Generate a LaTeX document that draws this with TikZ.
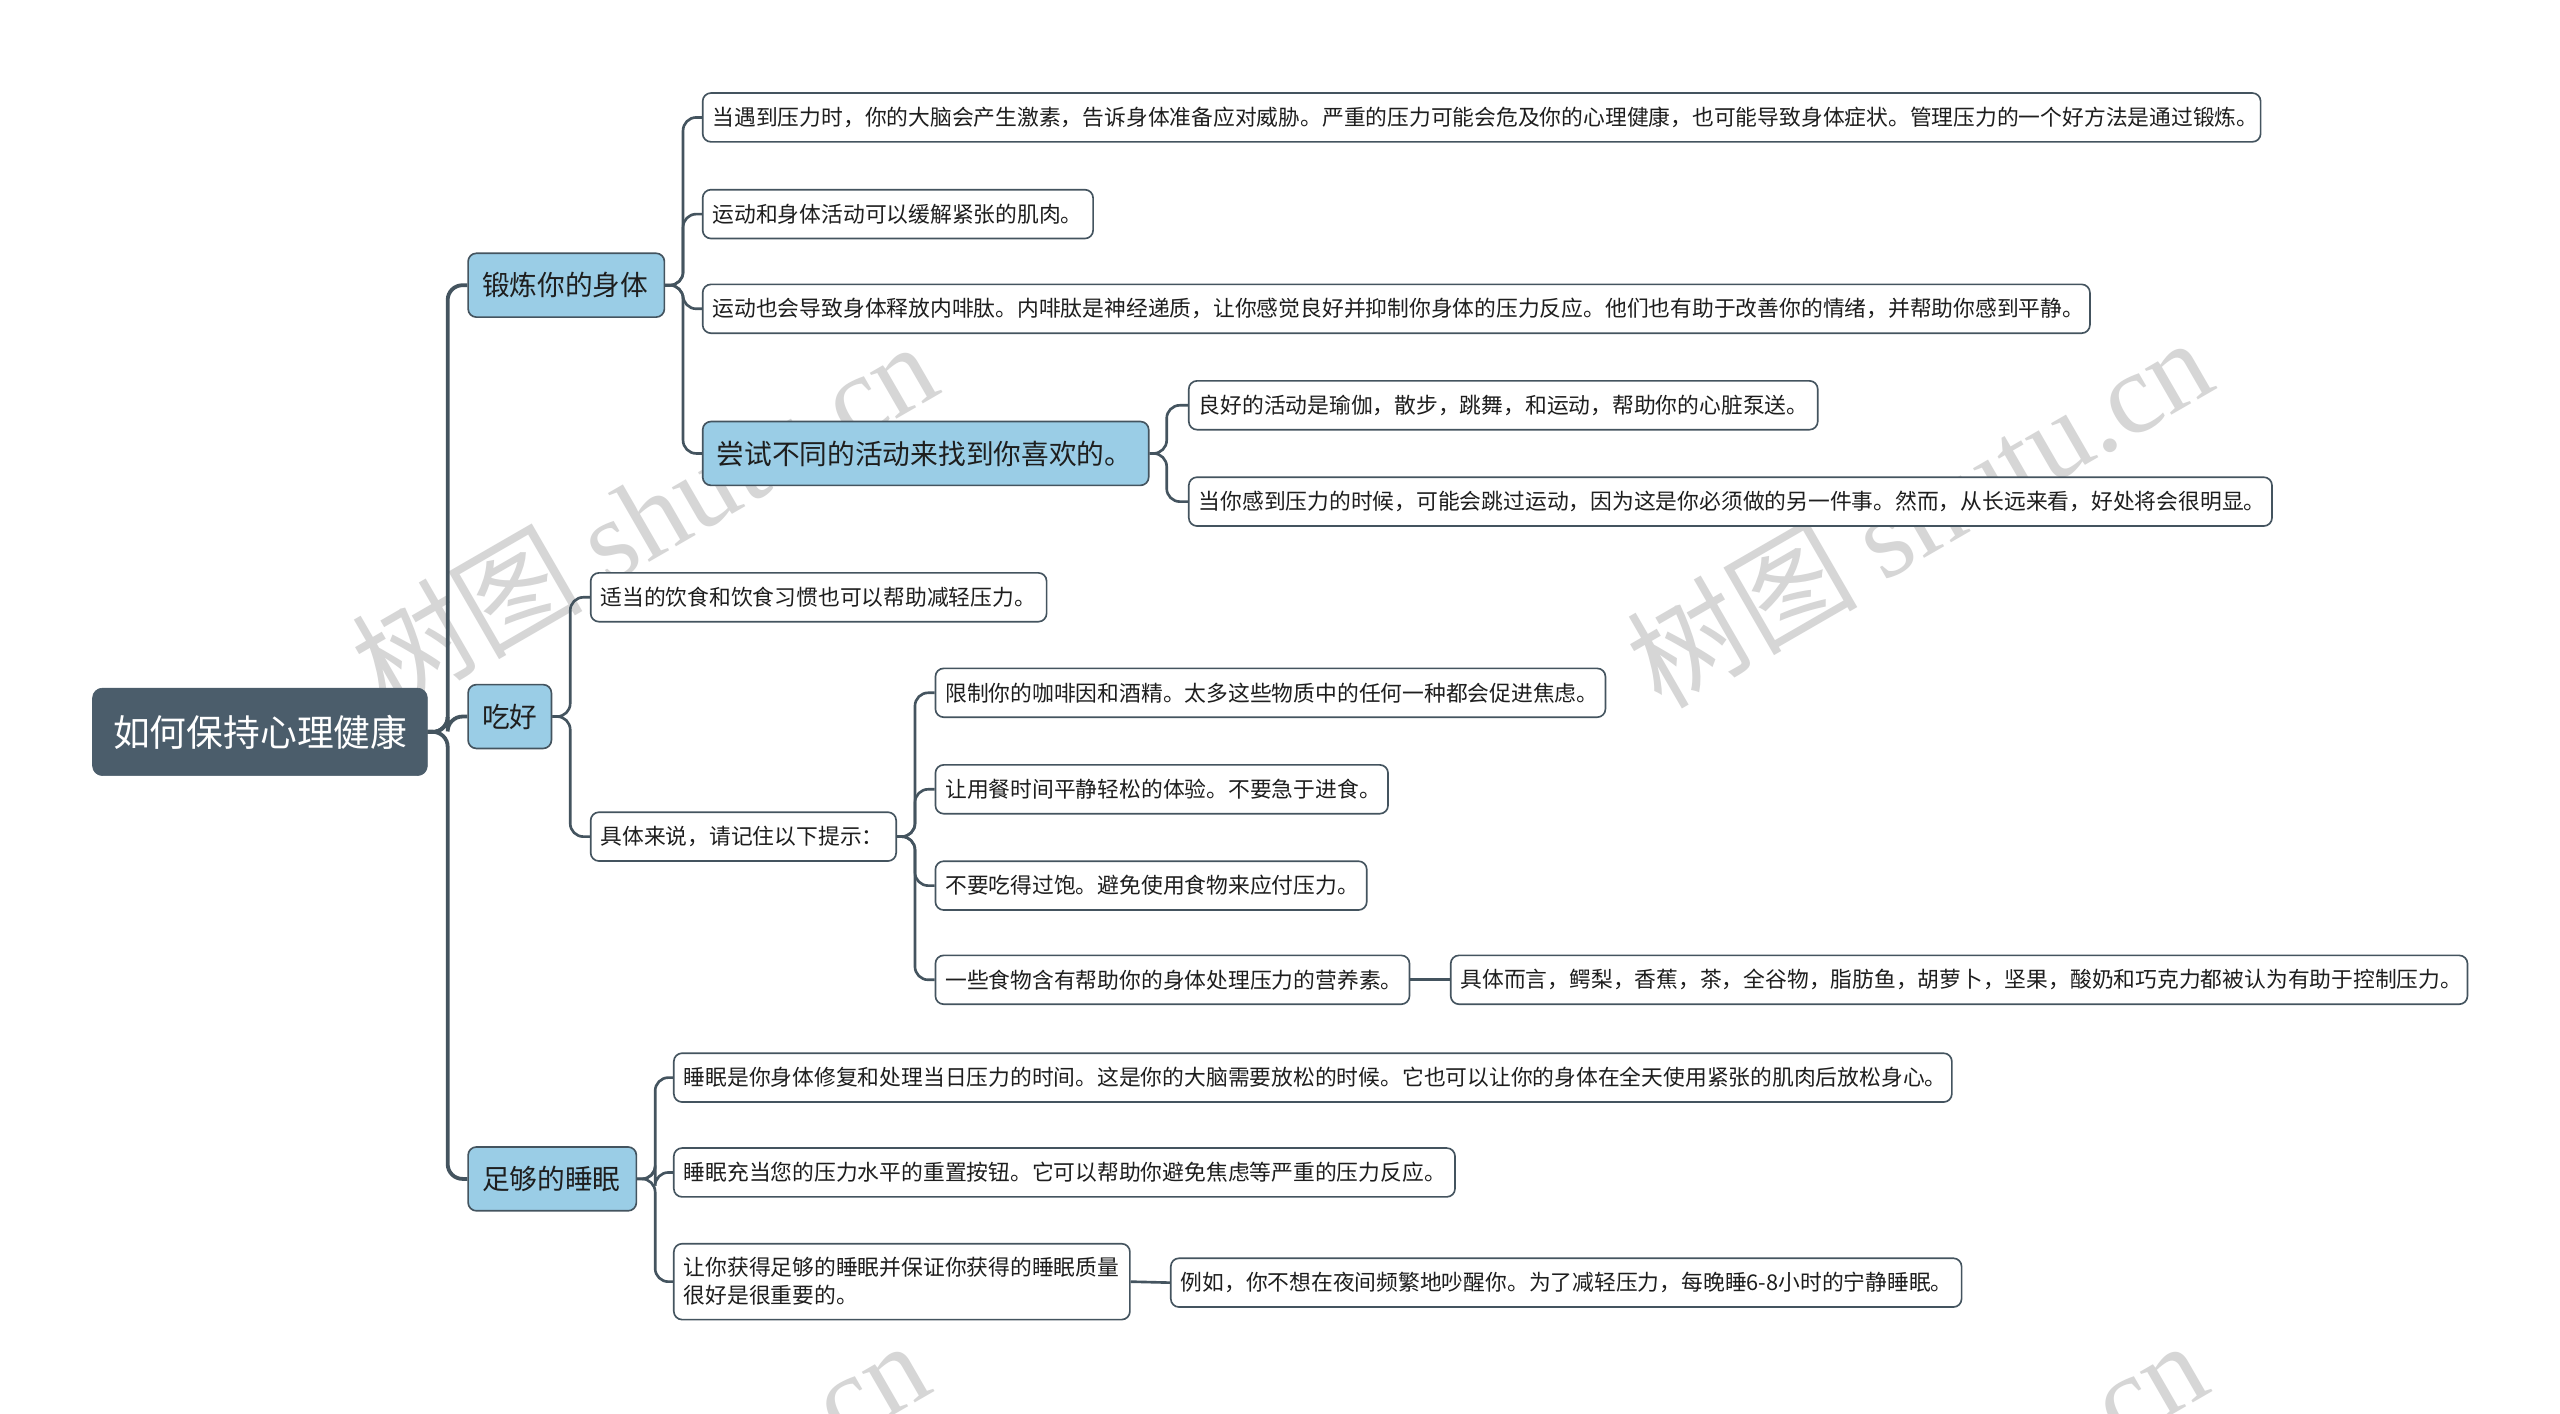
\documentclass[tikz,border=0pt]{standalone}
\usepackage{fontspec}
\setmainfont{Noto Sans CJK SC}
\newfontfamily\wmlatin{Liberation Serif}
\newfontfamily\wmcjk{Noto Sans CJK SC}
\definecolor{lineC}{HTML}{44545F}
\definecolor{rootC}{HTML}{4B5D6B}
\definecolor{blueC}{HTML}{9ACDE6}
\definecolor{textC}{HTML}{1E1E1E}
\definecolor{wmC}{HTML}{D6D6D6}
\tikzset{
  leaf/.style={draw=lineC, line width=1pt, fill=white, rounded corners=5pt,
    font=\fontsize{13.2}{16}\selectfont, text=textC, minimum height=29.6pt,
    inner xsep=6pt, inner ysep=3pt, anchor=west, align=left},
  topic/.style={leaf, fill=blueC, font=\fontsize{16.8}{20}\selectfont, minimum height=38.7pt, inner xsep=8.5pt},
  rootbox/.style={draw=rootC, fill=rootC, rounded corners=6pt, text=white,
    font=\fontsize{22.3}{26}\selectfont, minimum height=53pt, inner xsep=12.5pt, anchor=west, align=left},
  tw/.style={text width=#1},
  conn/.style={draw=lineC, line width=1.6pt, rounded corners=8pt},
  mainconn/.style={draw=lineC, line width=2.3pt, rounded corners=9pt},
  wm/.style={text=wmC, rotate=30, font=\fontsize{70}{80}\selectfont}
}
\begin{document}
\begin{tikzpicture}[x=1pt,y=-1pt]
\useasboundingbox (0,0) rectangle (1552,857);
\fill[white] (0,0) rectangle (1552,857);
% watermarks
\begin{scope}
\clip (0,0) rectangle (1552,857);
\node[wm] (wm1) at (390,312) {\wmcjk 树图 \wmlatin shutu.cn};
\node[wm] (wm2) at (1163,310) {\wmcjk 树图 \wmlatin shutu.cn};
\node[wm] (wm3) at (385,918) {\wmcjk 树图 \wmlatin shutu.cn};
\node[wm] (wm4) at (1160,918) {\wmcjk 树图 \wmlatin shutu.cn};
\end{scope}
% nodes
\node[rootbox, tw=178pt] (root) at (55.9,443.7) {\mbox{如何保持心理健康}};
\node[topic, tw=102pt] (t1) at (283.3,172.9) {\mbox{锻炼你的身体}};
\node[topic, tw=33.5pt] (t2) at (283.3,434.4) {\mbox{吃好}};
\node[topic, tw=85pt] (t3) at (283.3,714.7) {\mbox{足够的睡眠}};
\node[leaf, tw=932.5pt] (c1) at (425.5,71.2) {\mbox{当遇到压力时，你的大脑会产生激素，告诉身体准备应对威胁。严重的压力可能会危及你的心理健康，也可能导致身体症状。管理压力的一个好方法是通过锻炼。}};
\node[leaf, tw=224.7pt] (c2) at (425.5,129.8) {\mbox{运动和身体活动可以缓解紧张的肌肉。}};
\node[leaf, tw=829pt] (c3) at (425.5,187.2) {\mbox{运动也会导致身体释放内啡肽。内啡肽是神经递质，让你感觉良好并抑制你身体的压力反应。他们也有助于改善你的情绪，并帮助你感到平静。}};
\node[topic, tw=253.4pt] (c4) at (425.5,274.9) {\mbox{尝试不同的活动来找到你喜欢的。}};
\node[leaf, tw=369.3pt] (c41) at (720.2,245.7) {\mbox{良好的活动是瑜伽，散步，跳舞，和运动，帮助你的心脏泵送。}};
\node[leaf, tw=644.7pt] (c42) at (720.2,304.1) {\mbox{当你感到压力的时候，可能会跳过运动，因为这是你必须做的另一件事。然而，从长远来看，好处将会很明显。}};
\node[leaf, tw=264.4pt] (e1) at (357.6,362.1) {\mbox{适当的饮食和饮食习惯也可以帮助减轻压力。}};
\node[leaf, tw=173.2pt] (e2) at (357.6,507.2) {\mbox{具体来说，请记住以下提示：}};
\node[leaf, tw=394.2pt] (e21) at (566.6,420) {\mbox{限制你的咖啡因和酒精。太多这些物质中的任何一种都会促进焦虑。}};
\node[leaf, tw=262.4pt] (e22) at (566.6,478.5) {\mbox{让用餐时间平静轻松的体验。不要急于进食。}};
\node[leaf, tw=249.5pt] (e23) at (566.6,536.9) {\mbox{不要吃得过饱。避免使用食物来应付压力。}};
\node[leaf, tw=275.4pt] (e24) at (566.6,594) {\mbox{一些食物含有帮助你的身体处理压力的营养素。}};
\node[leaf, tw=604.4pt] (e241) at (879,594) {\mbox{具体而言，鳄梨，香蕉，茶，全谷物，脂肪鱼，胡萝卜，坚果，酸奶和巧克力都被认为有助于控制压力。}};
\node[leaf, tw=762.8pt] (s1) at (408,653.3) {\mbox{睡眠是你身体修复和处理当日压力的时间。这是你的大脑需要放松的时候。它也可以让你的身体在全天使用紧张的肌肉后放松身心。}};
\node[leaf, tw=461.6pt] (s2) at (408,710.8) {\mbox{睡眠充当您的压力水平的重置按钮。它可以帮助你避免焦虑等严重的压力反应。}};
\node[leaf, tw=264.5pt, minimum height=46pt, font=\fontsize{13.2}{17}\selectfont] (s3) at (408,777) {\mbox{让你获得足够的睡眠并保证你获得的睡眠质量}\\\mbox{很好是很重要的。}};
\node[leaf, tw=467.4pt] (s31) at (709.3,777.6) {\mbox{例如，你不想在夜间频繁地吵醒你。为了减轻压力，每晚睡6-8小时的宁静睡眠。}};
% branch x positions
\coordinate (v0) at (271.4,0);
\coordinate (v1) at (414.1,0);
\coordinate (v2) at (707.3,0);
\coordinate (v3) at (345.7,0);
\coordinate (v4) at (554.7,0);
\coordinate (v5) at (397.2,0);
% connectors
\foreach \c in {t1,t2,t3} \draw[mainconn] (root.east) -- (root.east -| v0) |- (\c.west);
\foreach \c in {c1,c2,c3,c4} \draw[conn] (t1.east) -- (t1.east -| v1) |- (\c.west);
\foreach \c in {c41,c42} \draw[conn] (c4.east) -- (c4.east -| v2) |- (\c.west);
\foreach \c in {e1,e2} \draw[conn] (t2.east) -- (t2.east -| v3) |- (\c.west);
\foreach \c in {e21,e22,e23,e24} \draw[conn] (e2.east) -- (e2.east -| v4) |- (\c.west);
\draw[conn] (e24.east) -- (e241.west);
\foreach \c in {s1,s2,s3} \draw[conn] (t3.east) -- (t3.east -| v5) |- (\c.west);
\draw[conn] (s3.east) -- (s31.west);
\end{tikzpicture}
\end{document}
